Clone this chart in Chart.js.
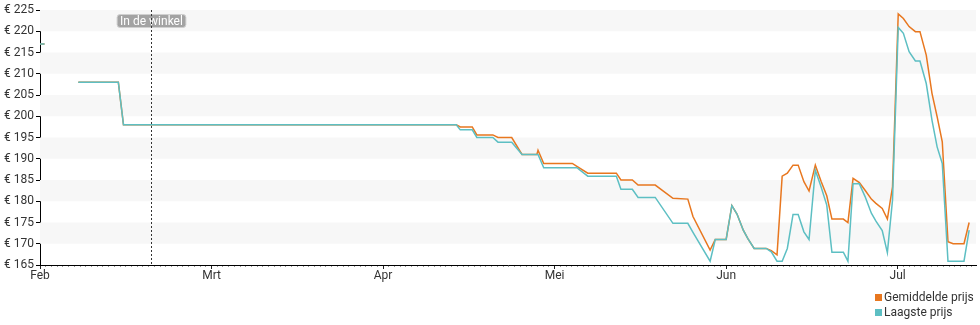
<!DOCTYPE html>
<html>
<head>
<meta charset="utf-8">
<script src="https://cdn.jsdelivr.net/npm/chart.js@4/dist/chart.umd.min.js"></script>
<style>
  html, body { margin: 0; padding: 0; background: #fff; }
  #wrap { position: relative; width: 980px; height: 325px; }
  #legend { position: absolute; left: 875px; top: 290px; font: 12px Roboto, sans-serif; color: #333; }
  #legend .item { height: 15px; line-height: 15px; white-space: nowrap; }
  #legend .sw { display: inline-block; width: 7px; height: 7px; margin-right: 2px; vertical-align: 0px; }
</style>
</head>
<body>
<div id="wrap">
  <canvas id="c" width="980" height="325"></canvas>
  <div id="legend"></div>
</div>
<script>
// ---- data (x = day index, 30 units per month, 0 = 1 Feb) ----
const monthLabels = ['Feb', 'Mrt', 'Apr', 'Mei', 'Jun', 'Jul'];
const monthStarts = [0, 30, 60, 90, 120, 150];
const yTicks = [165, 170, 175, 180, 185, 190, 195, 200, 205, 210, 215, 220, 225];
const seriesNames = ['Gemiddelde prijs', 'Laagste prijs'];
const seriesColors = ['#e8771f', '#5dbfc3'];
const storeMarkerDay = 19.4;
const storeMarkerLabel = 'In de winkel';

const days = [0, 0.8, 1.5, 6.7, 13.7, 14.6, 72.8, 73.5, 75.6, 76.4, 79.2, 80.1, 82.5, 84.3, 86.9, 87.1, 88.1, 93.1, 93.9, 95.8,
  100.8, 101.6, 103.6, 104.6, 107.6, 110.7, 113.3, 114.2, 117.2, 118.1, 120, 121, 121.9, 123, 123.8, 124.9, 127, 127.9, 128.9,
  129.8, 130.7, 131.7, 132.6, 133.6, 134.5, 135.6, 136.6, 137.6, 138.5, 140.5, 141.3, 142.2, 143.3, 144.3, 145.4, 146.2, 147.3,
  148.2, 149.1, 150.1, 151, 152, 153.1, 153.9, 155, 156, 156.9, 157.8, 158.8, 159.7, 161.6, 162.5];
const avgPrice = [217, 217, null, 208, 208, 198, 198, 197.5, 197.5, 195.6, 195.6, 195, 195, 191, 191, 192, 188.9, 188.9, 188.2, 186.6,
  186.6, 185, 185, 183.8, 183.8, 180.7, 180.5, 176.4, 168.5, 171, 171, 179, 177, 173.2, 171.2, 168.9, 168.9, 168.4, 167.4,
  185.9, 186.6, 188.5, 188.5, 184.6, 182.4, 188.5, 184.7, 181.3, 175.8, 175.8, 175, 185.4, 184.4, 182.6, 180.5, 179.5, 178.3,
  175.8, 183.4, 224.1, 223, 221.1, 219.9, 219.9, 214.4, 205.4, 199.9, 194, 170.5, 170, 170, 175];
const lowPrice = [217, 217, null, 208, 208, 198, 198, 196.8, 196.8, 195, 195, 193.9, 193.9, 191, 191, 191, 187.9, 187.9, 187.9, 185.9,
  185.9, 182.8, 182.8, 180.9, 180.9, 174.8, 174.8, 172.7, 165.9, 171, 171, 179, 177, 173.2, 171.2, 168.9, 168.9, 168.1, 165.9,
  165.9, 168.9, 176.9, 176.9, 172.8, 171, 187.3, 183.4, 179.1, 168, 168, 165.9, 184.1, 184.1, 181.1, 177.2, 175.3, 173.1,
  167.9, 180.3, 220.9, 219.5, 215.2, 213, 213, 207.7, 199.1, 192.8, 188.9, 165.9, 165.9, 165.9, 173.2];

const FONT = 'Roboto, sans-serif';

const bandsPlugin = {
  id: 'bands',
  beforeDatasetsDraw(chart) {
    const { ctx, chartArea: a, scales: { y } } = chart;
    ctx.save();
    ctx.fillStyle = '#f7f7f7';
    for (let v = 170; v < 225; v += 10) {
      const top = y.getPixelForValue(v + 5), bot = y.getPixelForValue(v);
      ctx.fillRect(a.left, top, a.right - a.left, bot - top);
    }
    ctx.restore();
  }
};

const markerPlugin = {
  id: 'marker',
  afterDatasetsDraw(chart) {
    const { ctx, chartArea: a, scales: { x } } = chart;
    const px = Math.round(x.getPixelForValue(storeMarkerDay)) + 0.5;
    ctx.save();
    ctx.font = '12px ' + FONT;
    const w = ctx.measureText(storeMarkerLabel).width + 6;
    const h = 13, cy = 21;
    ctx.fillStyle = '#a3a3a3';
    ctx.strokeStyle = '#d0d0d0';
    ctx.lineWidth = 1;
    ctx.beginPath();
    ctx.roundRect(px - w / 2, cy - h / 2, w, h, 3);
    ctx.fill();
    ctx.stroke();
    ctx.fillStyle = '#fff';
    ctx.textAlign = 'center';
    ctx.textBaseline = 'middle';
    ctx.fillText(storeMarkerLabel, px, cy + 0.5);
    ctx.strokeStyle = '#333';
    ctx.setLineDash([2, 2]);
    ctx.beginPath();
    ctx.moveTo(px, a.top);
    ctx.lineTo(px, a.bottom);
    ctx.stroke();
    ctx.restore();
  }
};

const mk = (vals) => days.map((d, i) => ({ x: d, y: vals[i] }));

new Chart(document.getElementById('c'), {
  type: 'line',
  data: {
    datasets: [
      { label: seriesNames[0], data: mk(avgPrice), borderColor: seriesColors[0], backgroundColor: seriesColors[0], order: 1 },
      { label: seriesNames[1], data: mk(lowPrice), borderColor: seriesColors[1], backgroundColor: seriesColors[1], order: 0 }
    ]
  },
  options: {
    responsive: false,
    animation: false,
    spanGaps: false,
    elements: { line: { borderWidth: 1.5, tension: 0 }, point: { radius: 0, hoverRadius: 0 } },
    layout: { padding: { top: 10, right: 4, left: 0, bottom: 40 } },
    plugins: { legend: { display: false }, tooltip: { enabled: false } },
    scales: {
      x: {
        type: 'linear', min: 0, max: 163.7,
        afterBuildTicks(s) { const t = []; for (let d = 0; d <= 163; d++) t.push({ value: d }); s.ticks = t; },
        afterFit(s) { s.height = 20; },
        ticks: {
          autoSkip: false, maxRotation: 0, padding: 0, color: '#333', font: { family: FONT, size: 12 },
          callback(v) { const i = monthStarts.indexOf(v); return i >= 0 ? monthLabels[i] : ''; }
        },
        grid: {
          drawOnChartArea: false, tickLength: 4,
          tickColor: (c) => (c.tick && monthStarts.includes(c.tick.value)) ? '#222' : '#999',
          tickBorderDash: (c) => (c.tick && monthStarts.includes(c.tick.value)) ? [] : [1, 2]
        },
        border: { color: '#000', width: 1 }
      },
      y: {
        min: 165, max: 225,
        afterBuildTicks(s) { s.ticks = yTicks.map(v => ({ value: v })); },
        afterFit(s) { s.width = 40; },
        ticks: { padding: 2, color: '#333', font: { family: FONT, size: 12 }, callback: (v) => '€ ' + v },
        grid: { drawOnChartArea: false, tickLength: 4, tickColor: '#000' },
        border: { color: '#000', width: 1 }
      }
    }
  },
  plugins: [bandsPlugin, markerPlugin]
});

const lg = document.getElementById('legend');
seriesNames.forEach((n, i) => {
  const d = document.createElement('div');
  d.className = 'item';
  d.innerHTML = '<span class="sw" style="background:' + seriesColors[i] + '"></span>' + n;
  lg.appendChild(d);
});
</script>
</body>
</html>
